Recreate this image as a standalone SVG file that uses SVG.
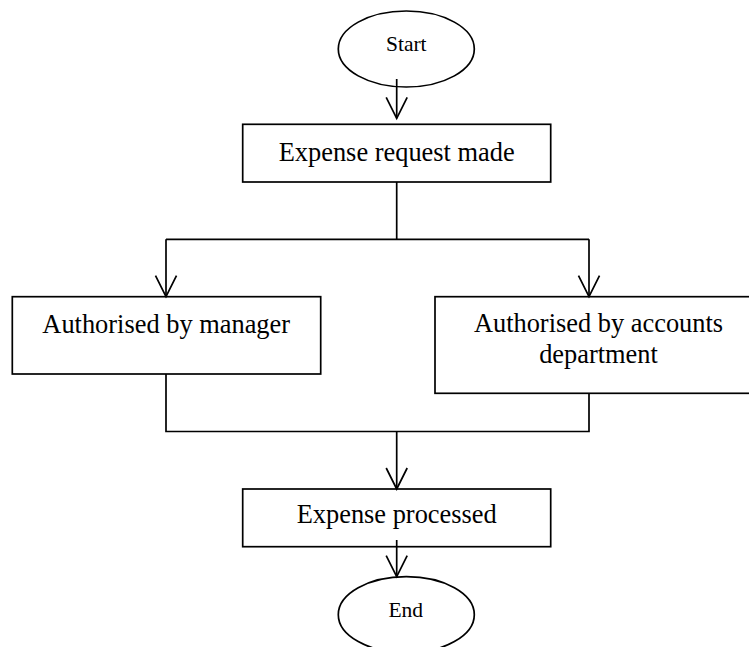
<svg xmlns="http://www.w3.org/2000/svg" width="749" height="647" viewBox="0 0 749 647">
  <style>
    .shape { fill: #ffffff; stroke: #000000; stroke-width: 1.7; }
    .line { fill: none; stroke: #000000; stroke-width: 1.7; }
    .label { font-family: "Liberation Serif", "Times New Roman", serif; font-size: 26.4px; fill: #000000; text-anchor: middle; }
    .small { font-family: "Liberation Serif", "Times New Roman", serif; font-size: 21.5px; fill: #000000; text-anchor: middle; }
  </style>
  <defs>
    <marker id="arrow" markerUnits="userSpaceOnUse" orient="auto" markerWidth="26" markerHeight="26" viewBox="-23 -13 26 26" refX="0" refY="0" overflow="visible">
      <path d="M-21,-10.5 L0,0 L-21,10.5" fill="none" stroke="#000000" stroke-width="1.7"/>
    </marker>
  </defs>
  <rect width="749" height="647" fill="#ffffff"/>

  <!-- nodes -->
  <g id="start">
    <ellipse class="shape" cx="406.3" cy="49" rx="68" ry="38"/>
    <text class="small" x="406.3" y="50.7">Start</text>
  </g>
  <g id="request">
    <rect class="shape" x="242.7" y="124.3" width="308" height="57.7"/>
    <text class="label" x="396.7" y="160.7">Expense request made</text>
  </g>
  <g id="manager">
    <rect class="shape" x="12.3" y="296.7" width="308.4" height="77.3"/>
    <text class="label" x="166.2" y="333">Authorised by manager</text>
  </g>
  <g id="accounts">
    <rect class="shape" x="435" y="296.7" width="327" height="96.6"/>
    <text class="label" x="598.5" y="332">Authorised by accounts</text>
    <text class="label" x="598.5" y="363">department</text>
  </g>
  <g id="processed">
    <rect class="shape" x="242.7" y="489" width="308" height="57.7"/>
    <text class="label" x="396.7" y="523.3">Expense processed</text>
  </g>
  <g id="end">
    <ellipse class="shape" cx="406.3" cy="614.7" rx="68" ry="38"/>
    <text class="small" x="405.8" y="617.3">End</text>
  </g>

  <!-- connectors -->
  <g id="connectors">
    <path class="line" d="M396.7,79 V118.3" marker-end="url(#arrow)"/>
    <path class="line" d="M396.7,182 V239.3"/>
    <path class="line" d="M166,239.3 H589"/>
    <path class="line" d="M166,239.3 V296.7" marker-end="url(#arrow)"/>
    <path class="line" d="M589,239.3 V296.7" marker-end="url(#arrow)"/>
    <path class="line" d="M166,374 V431.5 H589 V393.3"/>
    <path class="line" d="M396.7,431.5 V489" marker-end="url(#arrow)"/>
    <path class="line" d="M396.7,540 V576.7" marker-end="url(#arrow)"/>
  </g>
</svg>
